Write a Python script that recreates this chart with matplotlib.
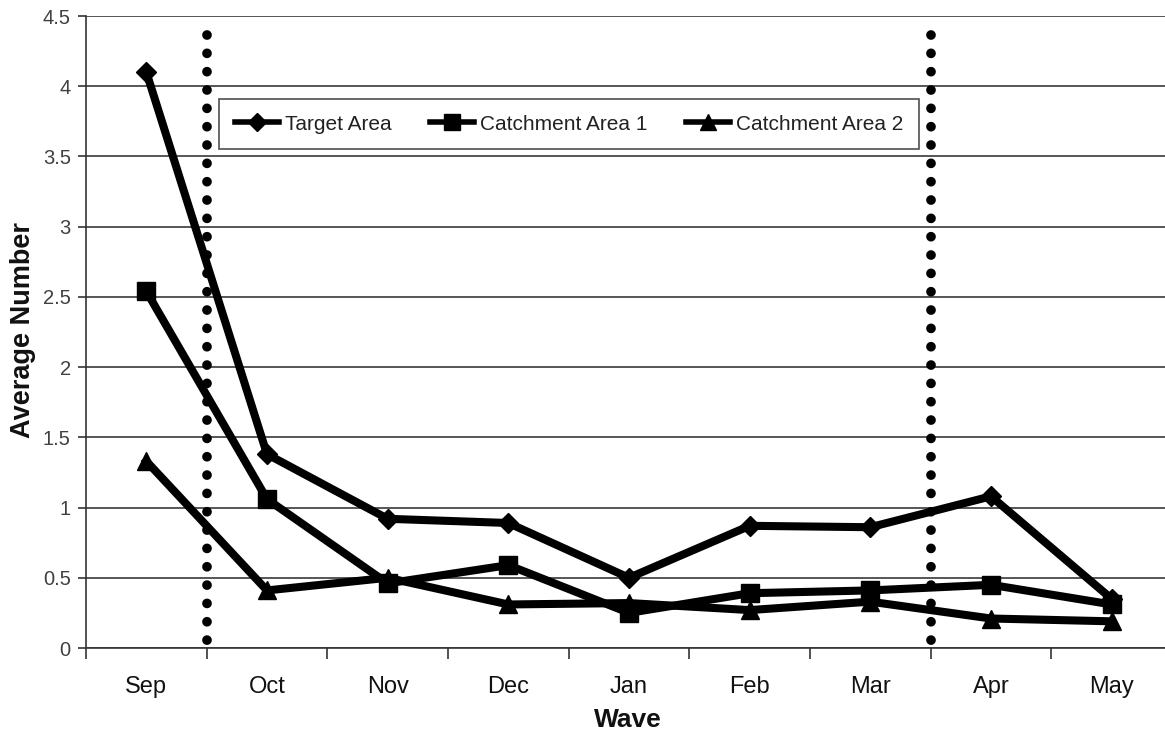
import matplotlib
matplotlib.use("Agg")
import matplotlib.pyplot as plt
from matplotlib.lines import Line2D

plt.rcParams['font.family'] = ['Liberation Sans', 'DejaVu Sans']

waves = ["Sep", "Oct", "Nov", "Dec", "Jan", "Feb", "Mar", "Apr", "May"]
target_area = [4.10, 1.38, 0.92, 0.89, 0.50, 0.87, 0.86, 1.08, 0.35]
catchment_1 = [2.54, 1.06, 0.46, 0.59, 0.25, 0.39, 0.41, 0.45, 0.31]
catchment_2 = [1.33, 0.41, 0.50, 0.31, 0.32, 0.27, 0.33, 0.21, 0.19]
y_ticks = [0, 0.5, 1, 1.5, 2, 2.5, 3, 3.5, 4, 4.5]
y_tick_labels = ["0", "0.5", "1", "1.5", "2", "2.5", "3", "3.5", "4", "4.5"]
# intervention boundaries (between Sep/Oct and Mar/Apr)
boundaries = [0.5, 6.5]

fig = plt.figure(figsize=(11.65, 7.4), dpi=100)
W, H = 1165, 740
x0, x1, y_top, y_bot = 86, 1172, 16, 648
ax = fig.add_axes([x0 / W, (H - y_bot) / H, (x1 - x0) / W, (y_bot - y_top) / H])

xs = list(range(len(waves)))
lw = 5.8
ax.plot(xs, target_area, color='black', lw=lw, marker='D', ms=10, label='Target Area', zorder=4)
ax.plot(xs, catchment_1, color='black', lw=lw, marker='s', ms=12.5, label='Catchment Area 1', zorder=4)
ax.plot(xs, catchment_2, color='black', lw=lw, marker='^', ms=13, label='Catchment Area 2', zorder=4)

# dotted separators drawn top-down so the dot pattern starts at the top
for b in boundaries:
    ax.plot([b, b], [4.365, 0.04], color='black', lw=7,
            linestyle=(0, (0.001, 1.885)), dash_capstyle='round', zorder=3)

ax.set_xlim(-0.5, len(waves) - 0.5)
ax.set_ylim(0, 4.5)
ax.set_yticks(y_ticks)
ax.set_yticklabels(y_tick_labels)
ax.yaxis.grid(True, color='#3a3a3a', lw=1.2)
ax.set_axisbelow(True)

ax.set_xticks(xs)
ax.set_xticklabels(waves)
ax.set_xticks([i + 0.5 for i in range(-1, len(waves))], minor=True)
ax.tick_params(axis='x', which='major', length=0, pad=20.5, labelsize=17, labelcolor='#111111')
ax.tick_params(axis='x', which='minor', length=8, width=1.2, color='#333333', direction='out')
ax.tick_params(axis='y', length=6, width=1.2, color='#333333', labelsize=14.5,
               labelcolor='#404040', pad=5)

for s in ['top', 'right']:
    ax.spines[s].set_visible(False)
for s in ['left', 'bottom']:
    ax.spines[s].set_color('#333333')
    ax.spines[s].set_linewidth(1.2)

fig.text(628 / W, 1 - 720 / H, 'Wave', fontsize=19, fontweight='bold',
         ha='center', va='center', color='#111111')
fig.text(23 / W, 1 - 330 / H, 'Average Number', rotation=90, fontsize=19.5,
         fontweight='bold', ha='center', va='center', color='#111111')

handles = [
    Line2D([], [], color='black', lw=4, marker='D', ms=9),
    Line2D([], [], color='black', lw=4, marker='s', ms=11),
    Line2D([], [], color='black', lw=4, marker='^', ms=11),
]
leg = fig.legend(handles, ['Target Area', 'Catchment Area 1', 'Catchment Area 2'],
                 loc='center', bbox_to_anchor=(569 / W, 1 - 124 / H), ncol=3,
                 fontsize=15, frameon=True, fancybox=False, edgecolor='#222222',
                 handlelength=2.1, handletextpad=0.3, columnspacing=1.85,
                 borderpad=0.75, labelcolor='#222222')
leg.get_frame().set_linewidth(1.2)

fig.savefig('out.png', dpi=100, facecolor='white')
